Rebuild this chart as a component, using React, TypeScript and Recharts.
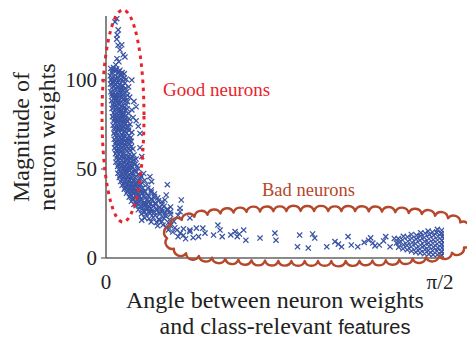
import { Scatter, ScatterChart, XAxis, YAxis } from "recharts";

// angle (rad) vs magnitude
const goodTop: [number, number][] = [
  [0.05, 134.5], [0.042, 132.7], [0.057, 128.2], [0.052, 125.4], [0.05, 123], [0.056, 119.6],
  [0.073, 119.8], [0.065, 117], [0.08, 114.2], [0.051, 112], [0.088, 113], [0.06, 110.3],
  [0.045, 108.6], [0.12, 100], [0.105, 96.2], [0.11, 90.4], [0.13, 88], [0.14, 85], [0.12, 83.2],
  [0.126, 79], [0.14, 77.1], [0.15, 74], [0.158, 70], [0.158, 62], [0.166, 57],
];

const goodCore: [number, number][] = [
  [0.022, 106.5], [0.035, 107], [0.05, 106.2], [0.065, 105.5], [0.028, 104.3], [0.043, 104.8],
  [0.058, 103.9], [0.075, 104.2], [0.02, 102.4], [0.036, 102], [0.052, 101.6], [0.068, 102.5],
  [0.084, 101.2], [0.025, 100.1], [0.041, 99.6], [0.06, 99.8], [0.078, 99.2], [0.094, 100.5],
  [0.021, 97.8], [0.033, 98.2], [0.048, 97.5], [0.063, 97.9], [0.08, 96.8], [0.027, 95.6],
  [0.042, 95.2], [0.056, 95.9], [0.071, 94.8], [0.09, 95.4], [0.023, 93.4], [0.037, 93],
  [0.052, 92.7], [0.067, 93.2], [0.083, 92.4], [0.03, 91], [0.045, 90.5], [0.06, 90.8],
  [0.076, 90.2], [0.1, 91.5], [0.026, 88.4], [0.04, 88.8], [0.055, 88.1], [0.07, 87.6],
  [0.088, 88.3], [0.032, 86.2], [0.047, 85.8], [0.062, 86.4], [0.078, 85.3], [0.095, 86],
  [0.028, 84], [0.043, 83.5], [0.058, 83.9], [0.073, 83.1], [0.09, 82.8], [0.035, 81.6],
  [0.05, 81.2], [0.066, 81.7], [0.081, 80.6], [0.105, 81.3], [0.03, 79.4], [0.044, 79],
  [0.06, 78.6], [0.075, 79.2], [0.092, 78.2], [0.036, 77], [0.052, 76.6], [0.068, 77.2],
  [0.084, 76.1], [0.1, 76.8], [0.033, 74.6], [0.048, 74.1], [0.064, 74.8], [0.08, 73.6],
  [0.097, 74], [0.112, 75.2], [0.04, 72.2], [0.056, 71.8], [0.072, 72.5], [0.088, 71.3],
  [0.105, 71.9], [0.037, 70.2], [0.12, 70.6], [0.042, 69], [0.058, 68.6], [0.074, 69.3],
  [0.09, 68.2], [0.108, 68.8], [0.038, 66.7], [0.054, 66.2], [0.07, 66.8], [0.086, 65.9],
  [0.102, 66.5], [0.118, 65.6], [0.045, 64.3], [0.06, 63.8], [0.077, 64.5], [0.093, 63.4],
  [0.11, 64.1], [0.04, 61.9], [0.056, 61.5], [0.072, 62.2], [0.088, 61.1], [0.104, 61.8],
  [0.125, 61.3], [0.05, 60], [0.066, 59.7], [0.098, 60.1], [0.044, 58.6], [0.06, 58.2],
  [0.078, 58.8], [0.094, 57.6], [0.11, 58.3], [0.13, 57.9], [0.05, 56.2], [0.066, 55.8],
  [0.083, 56.5], [0.1, 55.4], [0.116, 56], [0.14, 55.6], [0.046, 53.9], [0.062, 53.4],
  [0.079, 54], [0.096, 53.1], [0.112, 53.7], [0.128, 53.2], [0.054, 51.5], [0.07, 51],
  [0.087, 51.7], [0.104, 50.8], [0.12, 51.3], [0.145, 51.8], [0.06, 49.6], [0.076, 49.2],
  [0.092, 49.8], [0.11, 49], [0.135, 49.4],
];

// second, interleaved layer of the solid core
const goodFill: [number, number][] = [
  [0.03, 105.6], [0.045, 105.9], [0.06, 104.9], [0.072, 103.3], [0.085, 103.5], [0.027, 101.2],
  [0.044, 100.9], [0.07, 100.6], [0.088, 98.3], [0.03, 99], [0.054, 98.6], [0.07, 96.4],
  [0.036, 96.8], [0.062, 94.2], [0.08, 94.3], [0.097, 93.6], [0.028, 92.2], [0.044, 91.8],
  [0.059, 92], [0.075, 91.5], [0.09, 90.1], [0.036, 89.6], [0.05, 89.4], [0.064, 89.2],
  [0.08, 89], [0.1, 87.9], [0.038, 87.2], [0.054, 86.9], [0.07, 85.1], [0.086, 84.6],
  [0.036, 84.8], [0.05, 84.5], [0.064, 82.6], [0.08, 82.1], [0.098, 83.8], [0.04, 80.3],
  [0.057, 80], [0.072, 80.4], [0.09, 79.8], [0.038, 78.1], [0.052, 77.9], [0.068, 78],
  [0.083, 77.6], [0.107, 78.3], [0.044, 75.8], [0.06, 75.6], [0.076, 75.3], [0.092, 75.7],
  [0.04, 73.3], [0.056, 73], [0.072, 73.2], [0.088, 73.1], [0.104, 73.4], [0.048, 70.9],
  [0.064, 70.7], [0.08, 70.5], [0.096, 70.2], [0.05, 67.7], [0.066, 67.5], [0.082, 67.4],
  [0.098, 67.1], [0.115, 67.6], [0.046, 65.3], [0.062, 65], [0.078, 65.2], [0.094, 65.1],
  [0.11, 65.8], [0.05, 63], [0.066, 62.8], [0.082, 63.1], [0.098, 62.7], [0.118, 62.6],
  [0.048, 60.8], [0.064, 60.7], [0.08, 60.4], [0.112, 60.5], [0.052, 57.4], [0.07, 57.1],
  [0.086, 57.2], [0.104, 56.9], [0.12, 57.3], [0.056, 55], [0.074, 54.8], [0.092, 54.9],
  [0.108, 54.6], [0.13, 55.1], [0.058, 52.6], [0.075, 52.4], [0.094, 52.3], [0.11, 52.1],
  [0.135, 52.6], [0.065, 50.4], [0.082, 50.2], [0.1, 50], [0.118, 49.9], [0.15, 50.3],
  [0.068, 48.6], [0.085, 48.4], [0.1, 48.2], [0.118, 48], [0.14, 48.3],
];

const tail: [number, number][] = [
  [0.055, 47.6], [0.072, 47.2], [0.089, 47.9], [0.106, 46.8], [0.123, 47.4], [0.15, 46.9],
  [0.175, 47.5], [0.062, 45.3], [0.08, 44.9], [0.098, 45.6], [0.116, 44.5], [0.134, 45.1],
  [0.16, 44.6], [0.204, 45.7], [0.068, 43], [0.086, 42.6], [0.104, 43.3], [0.122, 42.2],
  [0.142, 42.8], [0.168, 42.3], [0.212, 42.9], [0.075, 40.9], [0.094, 40.5], [0.112, 41.2],
  [0.13, 40.1], [0.152, 40.7], [0.19, 41.3], [0.285, 41.2], [0.085, 38.7], [0.104, 38.3],
  [0.122, 39], [0.14, 37.9], [0.16, 38.5], [0.18, 37.6], [0.21, 38.2], [0.095, 36.4],
  [0.114, 36], [0.132, 36.7], [0.15, 35.6], [0.17, 36.3], [0.195, 35.4], [0.225, 36],
  [0.108, 34.2], [0.126, 33.7], [0.144, 34.4], [0.163, 33.3], [0.185, 34], [0.21, 33.2],
  [0.24, 33.8], [0.118, 31.9], [0.137, 31.5], [0.156, 32.2], [0.176, 31.1], [0.2, 31.7],
  [0.23, 31], [0.26, 31.6], [0.28, 35.4], [0.274, 32.6], [0.35, 32.6], [0.13, 30.1],
  [0.19, 30.3], [0.14, 29.4], [0.16, 29], [0.18, 29.7], [0.2, 28.6], [0.22, 29.2],
  [0.25, 28.4], [0.27, 29.1], [0.3, 28.7], [0.15, 27.1], [0.17, 26.7], [0.19, 27.4],
  [0.21, 26.3], [0.235, 26.9], [0.26, 26.1], [0.285, 26.8], [0.344, 28], [0.344, 26],
  [0.165, 24.8], [0.185, 24.4], [0.205, 25.1], [0.228, 24], [0.25, 24.6], [0.275, 23.8],
  [0.3, 24.5], [0.335, 24], [0.18, 22.5], [0.2, 22.1], [0.22, 22.8], [0.245, 21.7],
  [0.27, 22.3], [0.295, 21.6], [0.39, 22.5], [0.166, 21.3], [0.25, 21.3], [0.21, 20.3],
  [0.235, 20], [0.26, 20.5], [0.29, 19.8], [0.315, 20.6], [0.265, 18.5], [0.24, 18.1],
  [0.28, 17.4], [0.3, 18.2], [0.32, 17], [0.33, 15.7], [0.39, 15.7], [0.36, 16.4],
  [0.29, 15.8], [0.31, 14.6], [0.345, 14], [0.39, 14.8], [0.335, 12], [0.36, 12.8],
  [0.43, 12], [0.45, 16.8], [0.42, 16.8], [0.46, 14], [0.37, 10.8], [0.405, 11.4],
];

const tailFill: [number, number][] = [
  [0.065, 46.5], [0.082, 46.1], [0.1, 46], [0.118, 45.8], [0.14, 46.1], [0.165, 45.8],
  [0.075, 44], [0.092, 43.9], [0.11, 43.8], [0.128, 43.5], [0.15, 43.6], [0.18, 43.7],
  [0.082, 41.8], [0.1, 41.7], [0.118, 41.6], [0.138, 41.5], [0.162, 41.3], [0.09, 39.7],
  [0.11, 39.5], [0.13, 39.4], [0.15, 39.3], [0.17, 39.5], [0.195, 39.2], [0.1, 37.5],
  [0.12, 37.3], [0.14, 37.2], [0.16, 37], [0.18, 36.8], [0.21, 37], [0.115, 35.2],
  [0.135, 35], [0.155, 34.9], [0.175, 34.8], [0.2, 34.6], [0.225, 34.5], [0.125, 32.8],
  [0.145, 32.7], [0.165, 32.6], [0.19, 32.5], [0.215, 32.3], [0.245, 32.2], [0.14, 30.7],
  [0.16, 30.6], [0.18, 30.5], [0.205, 30.3], [0.23, 30.1], [0.26, 30], [0.17, 28.1],
  [0.19, 28], [0.21, 27.9], [0.235, 27.8], [0.26, 27.6], [0.285, 27.5], [0.18, 25.9],
  [0.2, 25.7], [0.225, 25.6], [0.25, 25.4], [0.275, 25.2], [0.3, 26],
];

const badSpread: [number, number][] = [
  [0.5, 12.9], [0.52, 18.5], [0.53, 15.7], [0.54, 12], [0.6, 14.8], [0.64, 15.7], [0.61, 12],
  [0.65, 10], [0.62, 13.5], [0.58, 13], [0.716, 11.2], [0.785, 14], [0.79, 10], [0.9, 12.9],
  [0.97, 11.2], [0.89, 6.3], [0.94, 5.6], [0.96, 13.5], [1.026, 6.3], [1.064, 9.2], [1.095, 6.3],
  [1.08, 7.8], [1.125, 12], [1.14, 7.3], [1.17, 6.3], [1.2, 8.8], [1.22, 10], [1.24, 8.4],
  [1.23, 11.3], [1.25, 6.8], [1.27, 7.3], [1.3, 12], [1.29, 9.6], [1.32, 6.3], [1.35, 8.4],
  [1.34, 11],
];

const badCore: [number, number][] = [
  [1.36, 6.1], [1.362, 8.7], [1.358, 10.9], [1.38, 5.2], [1.383, 7.4], [1.378, 10.1], [1.382, 12.2],
  [1.4, 4.6], [1.398, 7.1], [1.403, 9.4], [1.401, 11.8], [1.42, 3.9], [1.418, 6.3], [1.423, 8.7],
  [1.421, 11.1], [1.419, 13.2], [1.44, 3.3], [1.442, 5.5], [1.438, 8.1], [1.441, 10.6],
  [1.443, 12.7], [1.46, 2.9], [1.458, 5.1], [1.462, 7.3], [1.459, 9.9], [1.461, 12.3],
  [1.463, 14.1], [1.48, 2.4], [1.482, 4.7], [1.478, 6.8], [1.481, 9.3], [1.479, 11.5],
  [1.483, 13.9], [1.5, 2.2], [1.498, 4.3], [1.502, 6.5], [1.499, 8.5], [1.501, 10.8],
  [1.503, 13.1], [1.497, 15.1], [1.52, 1.9], [1.518, 4.1], [1.522, 6.1], [1.519, 8.3],
  [1.521, 10.3], [1.523, 12.7], [1.517, 14.6], [1.54, 1.8], [1.538, 3.9], [1.542, 5.7],
  [1.539, 7.9], [1.541, 10.1], [1.543, 12.1], [1.537, 14.4], [1.54, 16.1], [1.56, 1.6],
  [1.558, 3.5], [1.562, 5.7], [1.559, 7.6], [1.561, 9.8], [1.563, 11.9], [1.557, 13.8],
  [1.56, 15.6], [1.57, 2.6], [1.569, 4.5], [1.57, 6.8], [1.568, 8.9], [1.57, 11.1], [1.569, 13.1],
];

const yTicks = [0, 50, 100];
const xTicks = [0, Math.PI / 2];
const xTickLabels = ["0", "π/2"];

const BLUE = "#3953A4";
const RED = "#E8232B";
const BROWN = "#B5472B";
const SERIF = "Liberation Serif, DejaVu Serif, Times New Roman, serif";
const SANS = "Liberation Sans, DejaVu Sans, sans-serif";

const toPts = (arr: [number, number][]) => arr.map(([x, y]) => ({ x, y }));

function Cross(props: any) {
  const { cx, cy } = props;
  const r = 2.6;
  return (
    <path
      d={`M${cx - r},${cy - r}L${cx + r},${cy + r}M${cx - r},${cy + r}L${cx + r},${cy - r}`}
      stroke={BLUE}
      strokeWidth={1.25}
      fill="none"
    />
  );
}

function XTick(props: any) {
  const { x, y, index } = props;
  return (
    <text x={index === 1 ? x - 4 : x} y={y + 23} textAnchor="middle" style={{ fontFamily: SERIF, fontSize: 21 }} fill="#222">
      {xTickLabels[index]}
    </text>
  );
}

function YTick(props: any) {
  const { x, y, payload } = props;
  return (
    <text x={x - 2} y={y + 7} textAnchor="end" style={{ fontFamily: SERIF, fontSize: 21 }} fill="#222">
      {payload.value}
    </text>
  );
}

// scalloped outline around the "bad" group (annotation, not data)
function cloudPath(cx: number, cy: number, a: number, b: number, n: number, step: number) {
  const pts: number[][] = [];
  for (let i = 0; i <= 1440; i++) {
    const t = (i / 1440) * 2 * Math.PI;
    const c = Math.cos(t);
    const s = Math.sin(t);
    pts.push([cx + a * Math.sign(c) * Math.pow(Math.abs(c), 2 / n), cy + b * Math.sign(s) * Math.pow(Math.abs(s), 2 / n)]);
  }
  const picked = [pts[0]];
  let acc = 0;
  for (let i = 1; i < pts.length; i++) {
    acc += Math.hypot(pts[i][0] - pts[i - 1][0], pts[i][1] - pts[i - 1][1]);
    if (acc >= step) {
      picked.push(pts[i]);
      acc = 0;
    }
  }
  picked.push(pts[0]);
  let d = `M${picked[0][0].toFixed(1)},${picked[0][1].toFixed(1)}`;
  for (let i = 1; i < picked.length; i++) {
    const [x0, y0] = picked[i - 1];
    const [x1, y1] = picked[i];
    const r = (Math.hypot(x1 - x0, y1 - y0) / 2) * 1.05;
    if (r < 1) continue;
    d += ` A${r.toFixed(1)},${r.toFixed(1)} 0 0 1 ${x1.toFixed(1)},${y1.toFixed(1)}`;
  }
  return d;
}

export default function App() {
  return (
    <div style={{ position: "absolute", left: 0, top: 0, width: 467, height: 339, background: "#fff" }}>
      <ScatterChart width={467} height={339} margin={{ top: 16, right: 23, bottom: 51, left: 46 }}>
        <XAxis
          type="number"
          dataKey="x"
          domain={[0, Math.PI / 2]}
          ticks={xTicks}
          interval={0}
          tickFormatter={(v: number) => (v === 0 ? "0" : "π/2")}
          tick={<XTick />}
          tickLine={false}
          axisLine={{ stroke: "#8a8a8a", strokeWidth: 1.8 }}
          height={30}
          allowDataOverflow
        />
        <YAxis
          type="number"
          dataKey="y"
          domain={[0, 136]}
          ticks={yTicks}
          interval={0}
          tick={<YTick />}
          tickSize={5}
          tickLine={{ stroke: "#444" }}
          axisLine={{ stroke: "#444", strokeWidth: 1.3 }}
          width={60}
          allowDataOverflow
        />
        <Scatter data={toPts(badSpread)} shape={<Cross />} isAnimationActive={false} />
        <Scatter data={toPts(badCore)} shape={<Cross />} isAnimationActive={false} />
        <Scatter data={toPts(tail)} shape={<Cross />} isAnimationActive={false} />
        <Scatter data={toPts(tailFill)} shape={<Cross />} isAnimationActive={false} />
        <Scatter data={toPts(goodCore)} shape={<Cross />} isAnimationActive={false} />
        <Scatter data={toPts(goodFill)} shape={<Cross />} isAnimationActive={false} />
        <Scatter data={toPts(goodTop)} shape={<Cross />} isAnimationActive={false} />
      </ScatterChart>
      <svg width={467} height={339} style={{ position: "absolute", left: 0, top: 0, pointerEvents: "none" }}>
        <ellipse cx={123} cy={116} rx={21} ry={106} fill="none" stroke={RED} strokeWidth={3} strokeDasharray="3.5 4.5" />
        <path d={cloudPath(318, 236, 151, 25, 3, 13)} fill="none" stroke={BROWN} strokeWidth={2.4} strokeLinejoin="round" />
        <text x={163} y={96} style={{ fontFamily: SERIF, fontSize: 19 }} fill={RED}>Good neurons</text>
        <text x={262} y={196} style={{ fontFamily: SERIF, fontSize: 18.5 }} fill={BROWN}>Bad neurons</text>
        <g style={{ fontFamily: SERIF, fontSize: 24 }} fill="#222" textAnchor="middle">
          <text transform="translate(29,137) rotate(-90)">Magnitude of</text>
          <text transform="translate(55,137) rotate(-90)">neuron weights</text>
          <text x={275} y={308}>Angle between neuron weights</text>
          <text x={285} y={334}>
            and class-relevant <tspan style={{ fontFamily: SANS, fontSize: 20 }}>features</tspan>
          </text>
        </g>
      </svg>
    </div>
  );
}
